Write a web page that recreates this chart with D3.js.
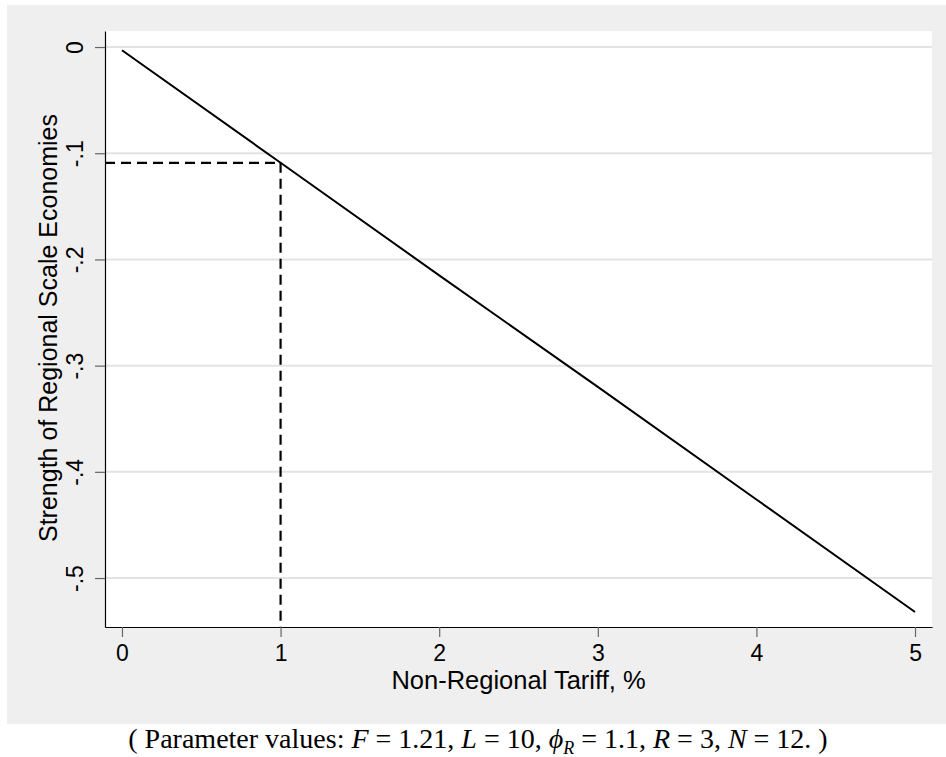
<!DOCTYPE html>
<html>
<head>
<meta charset="utf-8">
<script src="https://cdn.jsdelivr.net/npm/d3@7"></script>
<style>
  body { margin: 0; background: #fff; }
  .canvas svg { display: block; }
</style>
</head>
<body>
<div class="canvas"></div>
<script>
// data
const tariff = [0, 1, 2, 3, 4, 5];
const strength = [-0.003, -0.109, -0.215, -0.32, -0.426, -0.532];
const xTicks = [0, 1, 2, 3, 4, 5];
const yTicks = [0, -0.1, -0.2, -0.3, -0.4, -0.5];
const yTickLabels = ["0", "-.1", "-.2", "-.3", "-.4", "-.5"];
const refPoint = { tariff: 1, strength: -0.109 };

const width = 946, height = 757;
const margin = { left: 105, right: 14, top: 31, bottom: 130 };
const chartDims = {
    width: width - margin.left - margin.right,
    height: height - margin.top - margin.bottom,
};

const svg = d3
    .select(".canvas")
    .append("svg")
    .attr("width", width)
    .attr("height", height);

// grey graph region
svg.append("rect")
    .attr("x", 7)
    .attr("y", 5)
    .attr("width", width - 7)
    .attr("height", 719)
    .attr("fill", "#efefef");

const chart = svg
    .append("g")
    .attr("transform", `translate(${margin.left},${margin.top})`);

chart.append("rect")
    .attr("width", chartDims.width)
    .attr("height", chartDims.height)
    .attr("fill", "#fff");

const x = d3.scaleLinear().domain([-0.107, 5.107]).range([0, chartDims.width]);
const y = d3.scaleLinear().domain([-0.5461, 0.0151]).range([chartDims.height, 0]);

// gridlines
chart.append("g")
    .selectAll("line")
    .data(yTicks)
    .enter()
    .append("line")
    .attr("x1", 0)
    .attr("x2", chartDims.width)
    .attr("y1", (d) => y(d))
    .attr("y2", (d) => y(d))
    .attr("stroke", "#e3e3e3")
    .attr("stroke-width", 2);

// axes
const xAxisGroup = chart
    .append("g")
    .attr("class", "x-axis")
    .attr("transform", `translate(0,${chartDims.height})`)
    .call(d3.axisBottom(x).tickValues(xTicks).tickFormat(d3.format("d")).tickSize(10).tickPadding(8).tickSizeOuter(0));

const yAxisGroup = chart
    .append("g")
    .attr("class", "y-axis")
    .call(d3.axisLeft(y).tickValues(yTicks).tickFormat((d, i) => yTickLabels[i]).tickSize(10).tickSizeOuter(0));

[xAxisGroup, yAxisGroup].forEach((g) => {
    g.attr("font-size", null).attr("font-family", null);
    g.select(".domain").attr("stroke", "#000").attr("stroke-width", 1.2);
    g.selectAll(".tick line").attr("stroke", "#666").attr("stroke-width", 1.2);
    g.selectAll("text")
        .attr("fill", "#000")
        .style("font-family", "'Liberation Sans', Arial, sans-serif")
        .style("font-size", "23px");
});

yAxisGroup.selectAll(".tick text")
    .attr("x", null)
    .attr("dy", null)
    .attr("text-anchor", "middle")
    .attr("transform", "translate(-28,0) rotate(-90)")
    .attr("dominant-baseline", "middle");

// axis titles
svg.append("text")
    .attr("x", margin.left + chartDims.width / 2)
    .attr("y", 689)
    .attr("text-anchor", "middle")
    .style("font-family", "'Liberation Sans', Arial, sans-serif")
    .style("font-size", "25.5px")
    .text("Non-Regional Tariff, %");

svg.append("text")
    .attr("transform", "translate(57,328) rotate(-90)")
    .attr("text-anchor", "middle")
    .style("font-family", "'Liberation Sans', Arial, sans-serif")
    .style("font-size", "25px")
    .text("Strength of Regional Scale Economies");

// dashed reference lines
const refGroup = chart.append("g")
    .attr("stroke", "#000")
    .attr("stroke-width", 2.2)
    .attr("stroke-dasharray", "10,6");

refGroup.append("line")
    .attr("x1", 0)
    .attr("x2", x(refPoint.tariff))
    .attr("y1", y(refPoint.strength))
    .attr("y2", y(refPoint.strength));

refGroup.append("line")
    .attr("x1", x(refPoint.tariff))
    .attr("x2", x(refPoint.tariff))
    .attr("y1", y(refPoint.strength))
    .attr("y2", chartDims.height);

// main line
const lineGen = d3
    .line()
    .x((d, i) => x(tariff[i]))
    .y((d) => y(d));

chart.append("path")
    .datum(strength)
    .attr("d", lineGen)
    .attr("fill", "none")
    .attr("stroke", "#000")
    .attr("stroke-width", 2);

// caption
const caption = svg.append("text")
    .attr("x", 478)
    .attr("y", 748)
    .attr("text-anchor", "middle")
    .style("font-family", "'Liberation Serif', 'Times New Roman', serif")
    .style("font-size", "28px");

const parts = [
    ["( Parameter values: ", false],
    ["F", true], [" = 1.21, ", false],
    ["L", true], [" = 10, ", false],
    ["\u03D5", true], ["R", true, "sub"], [" = 1.1, ", false],
    ["R", true], [" = 3, ", false],
    ["N", true], [" = 12. )", false],
];
parts.forEach((p) => {
    const t = caption.append("tspan")
        .style("font-style", p[1] ? "italic" : "normal")
        .text(p[0]);
    if (p[2] === "sub") {
        t.attr("dy", 6).style("font-size", "18px");
    } else if (p[0].startsWith(" = 1.1")) {
        t.attr("dy", -6);
    }
});
</script>
</body>
</html>
